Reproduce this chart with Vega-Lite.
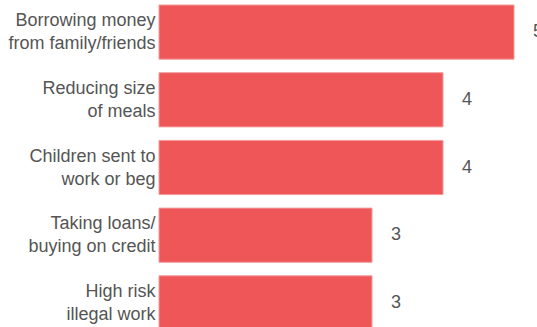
{
  "$schema": "https://vega.github.io/schema/vega-lite/v6.json",
  "width": 355,
  "height": 335,
  "autosize": "none",
  "padding": {"left": 159, "top": 0, "right": 23, "bottom": 0},
  "background": "white",
  "config": {"view": {"stroke": null}},
  "data": {
    "values": [
      {"cat": "Borrowing money|from family/friends", "value": 5},
      {"cat": "Reducing size|of meals", "value": 4},
      {"cat": "Children sent to|work or beg", "value": 4},
      {"cat": "Taking loans/|buying on credit", "value": 3},
      {"cat": "High risk|illegal work", "value": 3}
    ]
  },
  "encoding": {
    "y": {
      "field": "cat",
      "type": "nominal",
      "sort": null,
      "scale": {"paddingInner": 0.2, "paddingOuter": 0.074},
      "axis": {
        "title": null,
        "domain": false,
        "ticks": false,
        "labelPadding": 4,
        "labelOffset": -11,
        "labelExpr": "split(datum.value, '|')",
        "labelFont": "Liberation Sans",
        "labelFontSize": 18,
        "labelLineHeight": 23,
        "labelColor": "#555555",
        "labelLimit": 200
      }
    },
    "x": {
      "field": "value",
      "type": "quantitative",
      "scale": {"domain": [0, 5], "nice": false},
      "axis": null
    }
  },
  "layer": [
    {
      "mark": {"type": "bar", "color": "#EE5658", "stroke": "#F49A9B", "strokeWidth": 1}
    },
    {
      "mark": {"type": "text", "align": "left", "baseline": "middle", "dx": 19, "font": "Liberation Sans", "fontSize": 18, "color": "#555555"},
      "encoding": {"text": {"field": "value", "type": "quantitative"}}
    }
  ]
}
